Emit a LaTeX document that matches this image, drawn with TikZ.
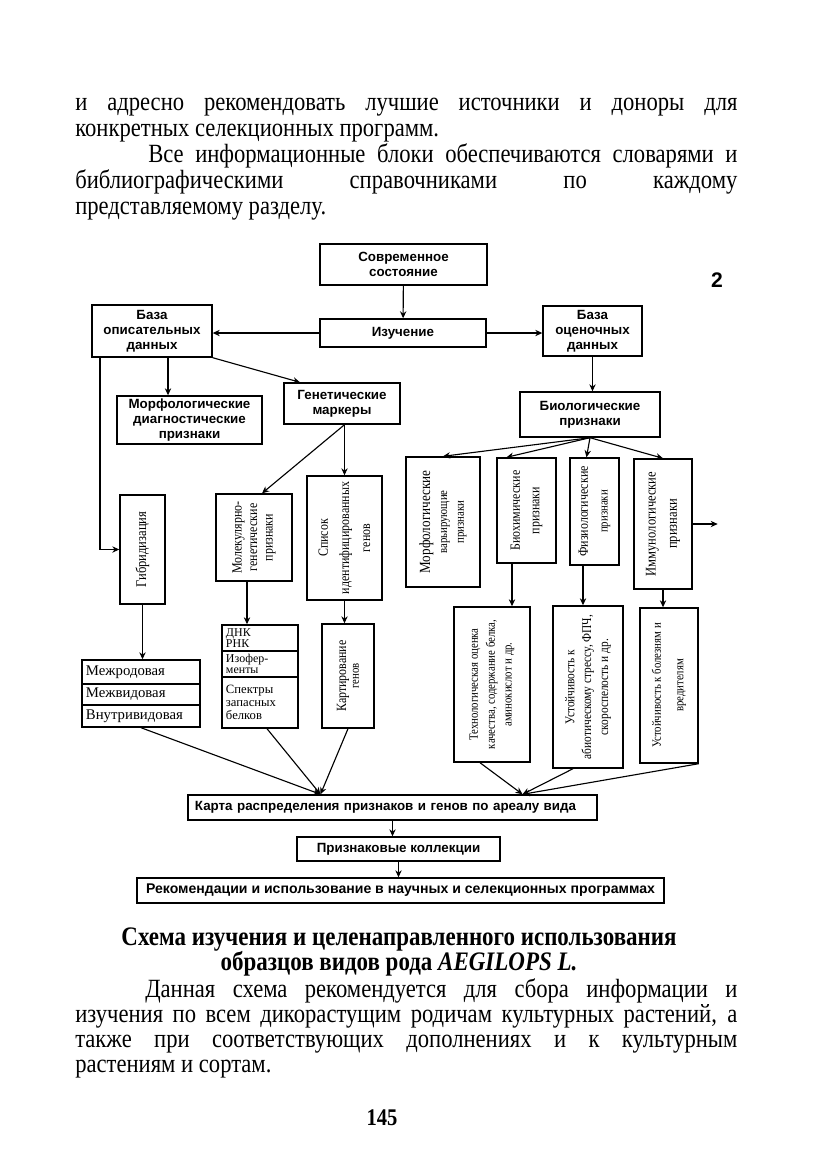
\documentclass[tikz,border=0pt]{standalone}
\usepackage{fontspec}
\setmainfont{Liberation Serif}
\setsansfont{Liberation Sans}
\newfontfamily\bodyserif[FakeStretch=0.86]{Liberation Serif}
\newfontfamily\narrowserif[FakeStretch=0.85]{Liberation Serif}
\newcommand{\smtxt}{\fontsize{9}{9.5}\selectfont}
\usepackage{tikz}
\usetikzlibrary{arrows.meta,positioning}
\tikzset{
    frame/.style={draw,line width=1pt},
    boxsize/.style 2 args={minimum width=#1*0.025cm,minimum height=#2*0.025cm},
    block/.style={frame,inner sep=1pt,align=center},
    vblock/.style={frame,inner sep=0pt},
    vtext/.style={rotate=90,align=center,inner sep=0pt,font=\narrowserif\fontsize{10}{11}\selectfont},
    cell/.style={frame,inner xsep=0.1cm,inner ysep=0pt,align=left,font=\rmfamily\fontsize{10.5}{11}\selectfont},
    body/.style={anchor=base west,inner sep=0pt,font=\bodyserif\fontsize{18.7}{20}\selectfont},
    caption/.style={anchor=base,inner sep=0pt,font=\bodyserif\bfseries\fontsize{19}{20}\selectfont},
    arr/.style={->,>={Stealth[length=5pt,width=4.5pt]},line width=0.8pt},
}
\tikzstyle{every node}=[font=\sffamily\bfseries\fontsize{9.5}{10.5}\selectfont]

\begin{document}
\begin{tikzpicture}[x=0.025cm,y=-0.025cm]
    \useasboundingbox (0,0) rectangle (833,1173);
    % text above the scheme
    \node[body] (top1) at (75,110) {\makebox[16.55cm][s]{и адресно рекомендовать лучшие источники и доноры для}};
    \node[body] (top2) at (75,136) {конкретных селекционных программ.};
    \node[body] (top3) at (148,162) {\makebox[14.725cm][s]{Все информационные блоки обеспечиваются словарями и}};
    \node[body] (top4) at (75,188) {\makebox[16.55cm][s]{библиографическими справочниками по каждому}};
    \node[body] (top5) at (75,214) {представляемому разделу.};

    % upper level
    \node[block,boxsize={167}{41}] (sovr) at (403.5,264.5) {Современное\\состояние};
    \node[block,boxsize={166}{28}] (izuch) at (403,333) {Изучение};
    \node[block,boxsize={120}{52}] (bopis) at (152,331) {База\\описательных\\данных};
    \node[block,boxsize={99}{50}] (bocen) at (592.5,331) {База\\оценочных\\данных};
    \node[font=\sffamily\bfseries\fontsize{15}{15}\selectfont] (num) at (717,280) {2};
    \node[block,boxsize={145}{48}] (morfd) at (189.5,420) {Морфологические\\диагностические\\признаки};
    \node[block,boxsize={116}{41}] (genm) at (342,403.5) {Генетические\\маркеры};
    \node[block,boxsize={140}{45}] (biol) at (590,414.5) {Биологические\\признаки};

    % vertical boxes
    \node[vblock,boxsize={45}{109}] (gib) at (142.5,549.5) {};
    \node[vtext,font=\narrowserif\fontsize{10.5}{11}\selectfont] (gibt) at (gib) {Гибридизация};
    \node[vblock,boxsize={76}{87}] (molg) at (254,537.5) {};
    \node[vtext] (molgt) at (molg) {Молекулярно-\\генетические\\признаки};
    \node[vblock,boxsize={75}{124}] (spis) at (344.5,538) {};
    \node[vtext,font=\narrowserif\fontsize{10}{15}\selectfont] (spist) at (spis) {Список\\идентифицированных\\генов};
    \node[vblock,boxsize={74}{130}] (morfv) at (443,522) {};
    \node[vtext,font=\narrowserif\fontsize{11}{12}\selectfont] (morfvt) at (morfv) {Морфологические\\\smtxt варьирующие\\\smtxt признаки};
    \node[vblock,boxsize={59}{105}] (bioh) at (526.5,510.5) {};
    \node[vtext,font=\narrowserif\fontsize{10}{14}\selectfont] (bioht) at (bioh) {Биохимические\\признаки};
    \node[vblock,boxsize={49}{107}] (fiz) at (594.5,511.5) {};
    \node[vtext,font=\narrowserif\fontsize{10}{14}\selectfont] (fizt) at (fiz) {Физиологические\\\smtxt признаки};
    \node[vblock,boxsize={58}{130}] (imm) at (663,524) {};
    \node[vtext,font=\narrowserif\fontsize{10.5}{15}\selectfont] (immt) at (imm) {Иммунологические\\признаки};

    % rows of crossings and markers
    \node[cell,boxsize={118}{24},text width=2.75cm] (mezh1) at (141,672) {Межродовая};
    \node[cell,boxsize={118}{21},text width=2.75cm] (mezh2) at (141,694.5) {Межвидовая};
    \node[cell,boxsize={118}{22},text width=2.75cm] (mezh3) at (141,716) {Внутривидовая};
    \node[cell,boxsize={76}{26},text width=1.7cm,font=\rmfamily\fontsize{8.5}{7.5}\selectfont] (dnk1) at (260,638) {ДНК\\РНК};
    \node[cell,boxsize={76}{26},text width=1.7cm,font=\rmfamily\fontsize{8.5}{8}\selectfont] (dnk2) at (260,664) {Изофер-\\менты};
    \node[cell,boxsize={76}{51},text width=1.7cm,font=\rmfamily\fontsize{9}{9.5}\selectfont] (dnk3) at (260,702.5) {Спектры\\запасных\\белков};
    \node[vblock,boxsize={52}{104}] (kart) at (348,676) {};
    \node[vtext,font=\narrowserif\fontsize{10}{9}\selectfont] (kartt) at (kart) {Картирование\\\smtxt генов};
    \node[vblock,boxsize={76}{155}] (tehn) at (492,684.5) {};
    \node[vtext,font=\narrowserif\fontsize{9}{12}\selectfont] (tehnt) at (tehn) {Технологическая оценка\\качества, содержание белка,\\аминокислот и др.};
    \node[vblock,boxsize={70}{162}] (abio) at (588,687) {};
    \node[vtext,font=\narrowserif\fontsize{9.5}{12}\selectfont] (abiot) at (abio) {Устойчивость к\\абиотическому стрессу, ФПЧ,\\скороспелость и др.};
    \node[vblock,boxsize={58}{155}] (bolez) at (669,685.5) {};
    \node[vtext,font=\narrowserif\fontsize{9}{16}\selectfont] (bolezt) at (bolez) {Устойчивость к болезням и\\вредителям};

    % lower level
    \node[block,boxsize={409}{25},text width=9.875cm,align=left,inner xsep=0.175cm] (karta) at (392.5,807.5) {Карта распределения признаков и генов по ареалу вида};
    \node[block,boxsize={203}{24}] (prizn) at (398.5,849) {Признаковые коллекции};
    \node[block,boxsize={527}{25},font=\sffamily\bfseries\fontsize{10}{11}\selectfont] (rekom) at (400.5,890.5) {Рекомендации и использование в научных и селекционных программах};
    \coordinate (kin1) at ([xshift=-1.8cm]karta.north);
    \coordinate (kin2) at ([xshift=3.25cm]karta.north);
    \coordinate (immout) at ([xshift=0.625cm]imm.east);

    % connectors
    \draw[arr] (sovr) -- (izuch);
    \draw[arr] (izuch.west) -- (izuch.west -| bopis.east);
    \draw[arr] (izuch.east) -- (izuch.east -| bocen.west);
    \draw[arr] ([xshift=0.4cm]bopis.south) -- ([xshift=0.4cm]bopis.south |- morfd.north);
    \draw[arr] (bopis.south east) -- ([xshift=-1.05cm]genm.north);
    \draw[arr] ([xshift=-1.3cm]bopis.south) |- (gib.west);
    \draw[arr] (bocen.south) -- (bocen.south |- biol.north);
    \draw[arr] (biol.south) -- (morfv.north);
    \draw[arr] (biol.south) -- ([xshift=-0.5cm]bioh.north);
    \draw[arr] (biol.south) -- ([xshift=-0.2cm]fiz.north);
    \draw[arr] (biol.south) -- (imm.north);
    \draw[arr] (imm.east) -- (immout);
    \draw[arr] (genm.south -| spis.north) -- (spis.north);
    \draw[arr] (genm.south -| spis.north) -- ([xshift=0.2cm]molg.north);
    \draw[arr] (gib.south) -- (gib.south |- mezh1.north);
    \draw[arr] ([xshift=-0.175cm]molg.south) -- ([xshift=-0.175cm]molg.south |- dnk1.north);
    \draw[arr] (spis.south) -- (spis.south |- kart.north);
    \draw[arr] ([xshift=-0.3625cm]bioh.south) -- ([xshift=-0.3625cm]bioh.south |- tehn.north);
    \draw[arr] ([xshift=-0.2875cm]fiz.south) -- ([xshift=-0.2875cm]fiz.south |- abio.north);
    \draw[arr] (imm.south) -- (imm.south |- bolez.north);
    \draw[arr] (mezh3.south) -- (kin1);
    \draw[arr] ([xshift=0.175cm]dnk3.south) -- (kin1);
    \draw[arr] (kart.south) -- (kin1);
    \draw[arr] ([xshift=-0.3cm]tehn.south) -- (kin2);
    \draw[arr] ([xshift=-0.375cm]abio.south) -- (kin2);
    \draw[arr] (bolez.south east) -- (kin2);
    \draw[arr] (karta.south) -- (karta.south |- prizn.north);
    \draw[arr] (prizn.south) -- (prizn.south |- rekom.north);

    % caption and text below
    \node[caption] (cap1) at (399,945) {Схема изучения и целенаправленного использования};
    \node[caption] (cap2) at (399,970) {образцов видов рода \textit{AEGILOPS L.}};
    \node[body] (par1) at (145,997) {\makebox[14.8cm][s]{Данная схема рекомендуется для сбора информации и}};
    \node[body] (par2) at (75,1022) {\makebox[16.55cm][s]{изучения по всем дикорастущим родичам культурных растений, а}};
    \node[body] (par3) at (75,1047) {\makebox[16.55cm][s]{также при соответствующих дополнениях и к культурным}};
    \node[body] (par4) at (75,1072) {растениям и сортам.};
    \node[caption,font=\bodyserif\bfseries\fontsize{17}{17}\selectfont] (pnum) at (382,1125) {145};
\end{tikzpicture}
\end{document}
